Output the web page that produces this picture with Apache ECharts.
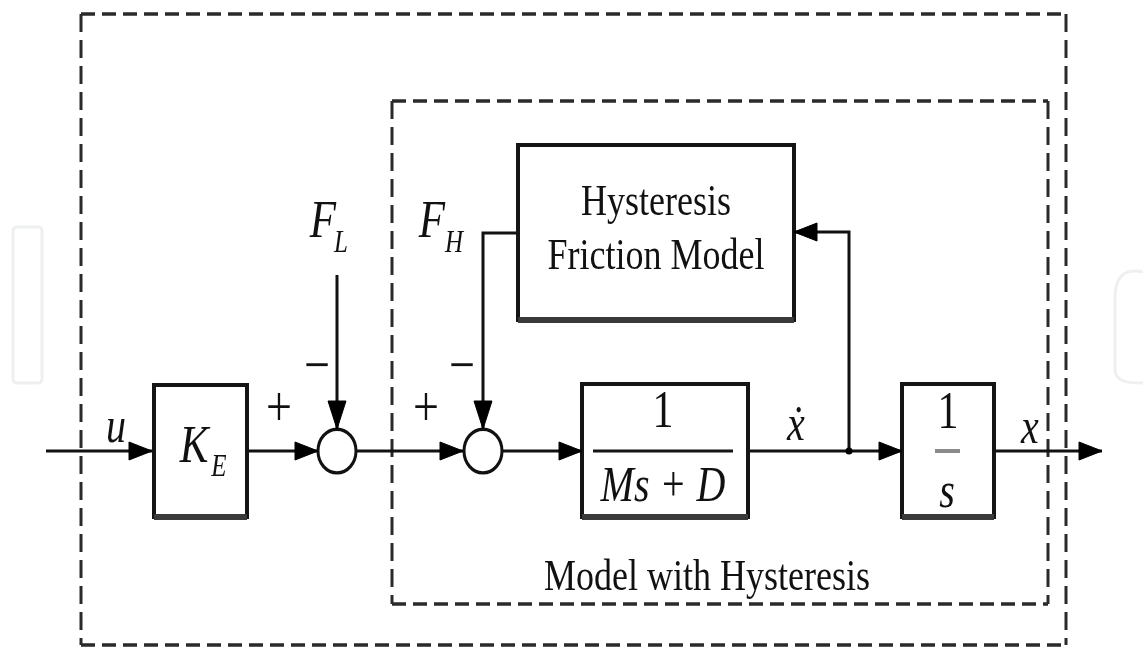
<!DOCTYPE html>
<html>
<head>
<meta charset="utf-8">
<title>Model with Hysteresis</title>
<script src="https://cdn.jsdelivr.net/npm/echarts@6/dist/echarts.min.js"></script>
<style>
    html, body { margin: 0; padding: 0; background: #fff; }
    #main { width: 1143px; height: 648px; }
</style>
</head>
<body>
<div id="main"></div>
<script>
// diagram coordinates (x to the right, y downwards)
var frames = [
    [81, 14, 1066, 645],
    [392, 101, 1048, 604]
];
var blocks = [
    [154, 385, 247, 517],
    [518, 145, 794, 320],
    [582, 384, 748, 517],
    [902, 384, 994, 517]
];
var wires = [
    [[46, 451], [152, 451]],
    [[247, 451], [318, 451]],
    [[337, 275], [337, 429]],
    [[356, 451], [463, 451]],
    [[518, 233], [483, 233], [483, 429]],
    [[502, 451], [582, 451]],
    [[748, 451], [902, 451]],
    [[849, 451], [849, 232], [794, 232]],
    [[994, 451], [1102, 451]]
];
// tip x, tip y, direction (0 right, 90 down, 180 left)
var arrows = [
    [152, 451, 0],
    [318, 451, 0],
    [337, 429, 90],
    [463, 451, 0],
    [483, 429, 90],
    [582, 451, 0],
    [902, 451, 0],
    [794, 232, 180],
    [1102, 451, 0]
];
var sums = [
    [337, 451],
    [483, 451]
];
var dots = [
    [849, 451]
];
// x1, x2, y, dark (1) or grey (0)
var fracBars = [
    [593, 733, 451, 1],
    [935, 960, 451, 0]
];
// x, y, text, font kind
var labels = [
    [656, 203, 'Hysteresis', 'rm'],
    [656, 257, 'Friction Model', 'rm'],
    [707, 578, 'Model with Hysteresis', 'rm'],
    [116, 429, 'u', 'it'],
    [194, 448, 'K', 'big'],
    [219, 468, 'E', 'sub'],
    [323, 223, 'F', 'big'],
    [341, 244, 'L', 'sub'],
    [432, 223, 'F', 'big'],
    [454, 244, 'H', 'sub'],
    [279, 411, '+', 'op'],
    [426, 411, '+', 'op'],
    [317, 369, '−', 'op'],
    [462, 369, '−', 'op'],
    [663, 413, '1', 'num'],
    [663, 488, 'Ms + D', 'it'],
    [796, 427, 'ẋ', 'it'],
    [1030, 430, 'x', 'it'],
    [948, 414, '1', 'num'],
    [947, 494, 's', 'it']
];

var fonts = {
    rm: { fontSize: 36, fontStyle: 'normal' },
    num: { fontSize: 42, fontStyle: 'normal' },
    op: { fontSize: 46, fontStyle: 'normal' },
    it: { fontSize: 40, fontStyle: 'italic' },
    big: { fontSize: 43, fontStyle: 'italic' },
    sub: { fontSize: 25, fontStyle: 'italic' }
};

var myChart = echarts.init(document.getElementById('main'));

function pt(api, p) {
    return api.coord(p);
}

var option = {
    backgroundColor: '#ffffff',
    animation: false,
    grid: { left: 0, right: 0, top: 0, bottom: 0 },
    xAxis: { type: 'value', min: 0, max: 1143, show: false },
    yAxis: { type: 'value', min: 0, max: 648, inverse: true, show: false },
    series: [
        {
            // faint watermark outline
            type: 'custom',
            silent: true,
            data: [0],
            renderItem: function (params, api) {
                var a = pt(api, [13, 227]);
                var b = pt(api, [42, 383]);
                return {
                    type: 'group',
                    children: [
                        {
                            type: 'rect',
                            shape: { x: a[0], y: a[1], width: b[0] - a[0], height: b[1] - a[1], r: 4 },
                            style: { fill: 'none', stroke: '#eef0f0', lineWidth: 3 }
                        },
                        {
                            type: 'path',
                            shape: { pathData: 'M1143 272 Q1114 266 1115 300 L1115 370 Q1115 384 1143 383' },
                            style: { fill: 'none', stroke: '#eef0f0', lineWidth: 3 }
                        }
                    ]
                };
            }
        },
        {
            type: 'custom',
            silent: true,
            data: frames,
            renderItem: function (params, api) {
                var a = pt(api, [api.value(0), api.value(1)]);
                var b = pt(api, [api.value(2), api.value(3)]);
                var h = { stroke: '#2a2a2a', lineWidth: 3.5, lineDash: [14, 7] };
                var v = { stroke: '#2a2a2a', lineWidth: 3, lineDash: [18, 8] };
                return {
                    type: 'group',
                    children: [
                        { type: 'line', shape: { x1: a[0], y1: a[1], x2: b[0], y2: a[1] }, style: h },
                        { type: 'line', shape: { x1: a[0], y1: b[1], x2: b[0], y2: b[1] }, style: h },
                        { type: 'line', shape: { x1: a[0], y1: a[1], x2: a[0], y2: b[1] }, style: v },
                        { type: 'line', shape: { x1: b[0], y1: a[1], x2: b[0], y2: b[1] }, style: v }
                    ]
                };
            }
        },
        {
            type: 'custom',
            silent: true,
            data: wires.map(function (w, i) { return [i]; }),
            renderItem: function (params, api) {
                var w = wires[params.dataIndex];
                var pts = w.map(function (p) { return pt(api, p); });
                return {
                    type: 'polyline',
                    shape: { points: pts },
                    style: { fill: 'none', stroke: '#111', lineWidth: 3 }
                };
            }
        },
        {
            type: 'custom',
            silent: true,
            data: blocks,
            renderItem: function (params, api) {
                var a = pt(api, [api.value(0), api.value(1)]);
                var b = pt(api, [api.value(2), api.value(3)]);
                return {
                    type: 'group',
                    children: [
                        {
                            type: 'rect',
                            shape: { x: a[0], y: a[1], width: b[0] - a[0], height: b[1] - a[1] },
                            style: { fill: '#fff', stroke: '#151515', lineWidth: 4 }
                        },
                        {
                            type: 'line',
                            shape: { x1: a[0], y1: b[1], x2: b[0], y2: b[1] },
                            style: { stroke: '#3a3a3a', lineWidth: 6 }
                        }
                    ]
                };
            }
        },
        {
            type: 'custom',
            silent: true,
            data: fracBars,
            renderItem: function (params, api) {
                var a = pt(api, [api.value(0), api.value(2)]);
                var b = pt(api, [api.value(1), api.value(2)]);
                var dark = api.value(3) === 1;
                return {
                    type: 'line',
                    shape: { x1: a[0], y1: a[1], x2: b[0], y2: b[1] },
                    style: { stroke: dark ? '#151515' : '#8a8a8a', lineWidth: dark ? 3 : 4 }
                };
            }
        },
        {
            type: 'custom',
            silent: true,
            data: sums,
            renderItem: function (params, api) {
                var c = pt(api, [api.value(0), api.value(1)]);
                return {
                    type: 'circle',
                    x: c[0],
                    y: c[1],
                    scaleY: 1.15,
                    shape: { cx: 0, cy: 0, r: 19 },
                    style: { fill: '#fff', stroke: '#111', lineWidth: 3 }
                };
            }
        },
        {
            type: 'custom',
            silent: true,
            data: arrows,
            renderItem: function (params, api) {
                var c = pt(api, [api.value(0), api.value(1)]);
                var d = api.value(2);
                var p;
                if (d === 90) {
                    p = [[c[0], c[1]], [c[0] - 9, c[1] - 28], [c[0] + 9, c[1] - 28]];
                } else if (d === 180) {
                    p = [[c[0], c[1]], [c[0] + 23, c[1] - 9], [c[0] + 23, c[1] + 9]];
                } else {
                    p = [[c[0], c[1]], [c[0] - 23, c[1] - 9], [c[0] - 23, c[1] + 9]];
                }
                return {
                    type: 'polygon',
                    shape: { points: p },
                    style: { fill: '#000', stroke: '#000', lineWidth: 1 }
                };
            }
        },
        {
            type: 'custom',
            silent: true,
            data: dots,
            renderItem: function (params, api) {
                var c = pt(api, [api.value(0), api.value(1)]);
                return {
                    type: 'circle',
                    shape: { cx: c[0], cy: c[1], r: 3.5 },
                    style: { fill: '#000' }
                };
            }
        },
        {
            type: 'custom',
            silent: true,
            data: labels.map(function (l) { return [l[0], l[1]]; }),
            renderItem: function (params, api) {
                var l = labels[params.dataIndex];
                var c = pt(api, [l[0], l[1]]);
                var f = fonts[l[3]];
                return {
                    type: 'text',
                    x: c[0],
                    y: c[1],
                    scaleY: 1.25,
                    style: {
                        text: l[2],
                        fontFamily: 'Liberation Serif',
                        fontSize: f.fontSize,
                        fontStyle: f.fontStyle,
                        fill: '#111',
                        align: 'center',
                        verticalAlign: 'middle',
                        textAlign: 'center',
                        textVerticalAlign: 'middle'
                    }
                };
            }
        }
    ]
};
myChart.setOption(option);
</script>
</body>
</html>
